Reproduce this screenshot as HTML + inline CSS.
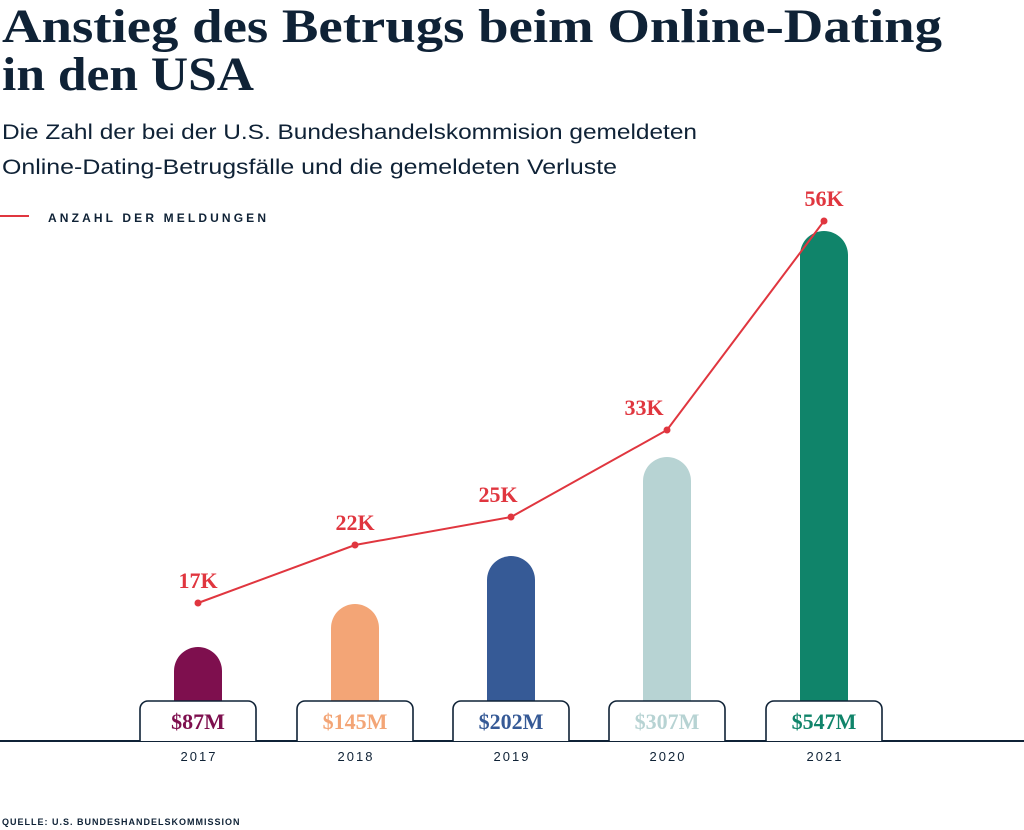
<!DOCTYPE html>
<html><head><meta charset="utf-8"><style>
body{margin:0;background:#fff;}
svg{display:block}
</style></head><body>
<svg width="1024" height="830" viewBox="0 0 1024 830" xmlns="http://www.w3.org/2000/svg">
<g fill="#0f2236">
<text x="2" y="42" font-family="Liberation Serif, serif" font-weight="bold" font-size="48" textLength="940" lengthAdjust="spacingAndGlyphs">Anstieg des Betrugs beim Online-Dating</text>
<text x="2" y="90" font-family="Liberation Serif, serif" font-weight="bold" font-size="48" textLength="252" lengthAdjust="spacingAndGlyphs">in den USA</text>
<text x="2" y="139" font-family="Liberation Sans, sans-serif" font-size="21" textLength="695" lengthAdjust="spacingAndGlyphs">Die Zahl der bei der U.S. Bundeshandelskommision gemeldeten</text>
<text x="2" y="174" font-family="Liberation Sans, sans-serif" font-size="21" textLength="615" lengthAdjust="spacingAndGlyphs">Online-Dating-Betrugsfälle und die gemeldeten Verluste</text>
<text x="48" y="222" font-family="Liberation Sans, sans-serif" font-weight="bold" font-size="12" letter-spacing="2" textLength="220">ANZAHL DER MELDUNGEN</text>
<text x="2" y="825" font-family="Liberation Sans, sans-serif" font-weight="bold" font-size="9" letter-spacing="1">QUELLE: U.S. BUNDESHANDELSKOMMISSION</text>
</g>
<line x1="0" y1="216" x2="29" y2="216" stroke="#e0363f" stroke-width="2"/>
<path d="M174 705 V671 a24 24 0 0 1 48 0 V705Z" fill="#7e0f4e"/>
<path d="M331 705 V628 a24 24 0 0 1 48 0 V705Z" fill="#f3a576"/>
<path d="M487 705 V580 a24 24 0 0 1 48 0 V705Z" fill="#365a96"/>
<path d="M643 705 V481 a24 24 0 0 1 48 0 V705Z" fill="#b7d3d3"/>
<path d="M800 705 V255 a24 24 0 0 1 48 0 V705Z" fill="#10846a"/>
<line x1="0" y1="741" x2="1024" y2="741" stroke="#0f2236" stroke-width="2"/>
<g stroke="#0f2236" stroke-width="1.6" fill="#fff">
<path d="M140 741 V709 a8 8 0 0 1 8 -8 H248 a8 8 0 0 1 8 8 V741"/>
<path d="M297 741 V709 a8 8 0 0 1 8 -8 H405 a8 8 0 0 1 8 8 V741"/>
<path d="M453 741 V709 a8 8 0 0 1 8 -8 H561 a8 8 0 0 1 8 8 V741"/>
<path d="M609 741 V709 a8 8 0 0 1 8 -8 H717 a8 8 0 0 1 8 8 V741"/>
<path d="M766 741 V709 a8 8 0 0 1 8 -8 H874 a8 8 0 0 1 8 8 V741"/>
</g>
<g font-family="Liberation Serif, serif" font-weight="bold" font-size="22" text-anchor="middle">
<text x="198" y="729" fill="#7e0f4e">$87M</text>
<text x="355" y="729" fill="#f3a576">$145M</text>
<text x="511" y="729" fill="#365a96">$202M</text>
<text x="667" y="729" fill="#b7d3d3">$307M</text>
<text x="824" y="729" fill="#10846a">$547M</text>
</g>
<g font-family="Liberation Sans, sans-serif" font-size="13" letter-spacing="2" text-anchor="middle" fill="#0f2236">
<text x="199" y="761">2017</text>
<text x="356" y="761">2018</text>
<text x="512" y="761">2019</text>
<text x="668" y="761">2020</text>
<text x="825" y="761">2021</text>
</g>
<polyline points="198,603 355,545 511,517 667,430 824,221" fill="none" stroke="#e0363f" stroke-width="2"/>
<g fill="#e0363f">
<circle cx="198" cy="603" r="3.5"/><circle cx="355" cy="545" r="3.5"/><circle cx="511" cy="517" r="3.5"/><circle cx="667" cy="430" r="3.5"/><circle cx="824" cy="221" r="3.5"/>
</g>
<g font-family="Liberation Serif, serif" font-weight="bold" font-size="22" text-anchor="middle" fill="#e0363f">
<text x="198" y="588">17K</text>
<text x="355" y="530">22K</text>
<text x="498" y="502">25K</text>
<text x="644" y="415">33K</text>
<text x="824" y="206">56K</text>
</g>
</svg>
</body></html>
